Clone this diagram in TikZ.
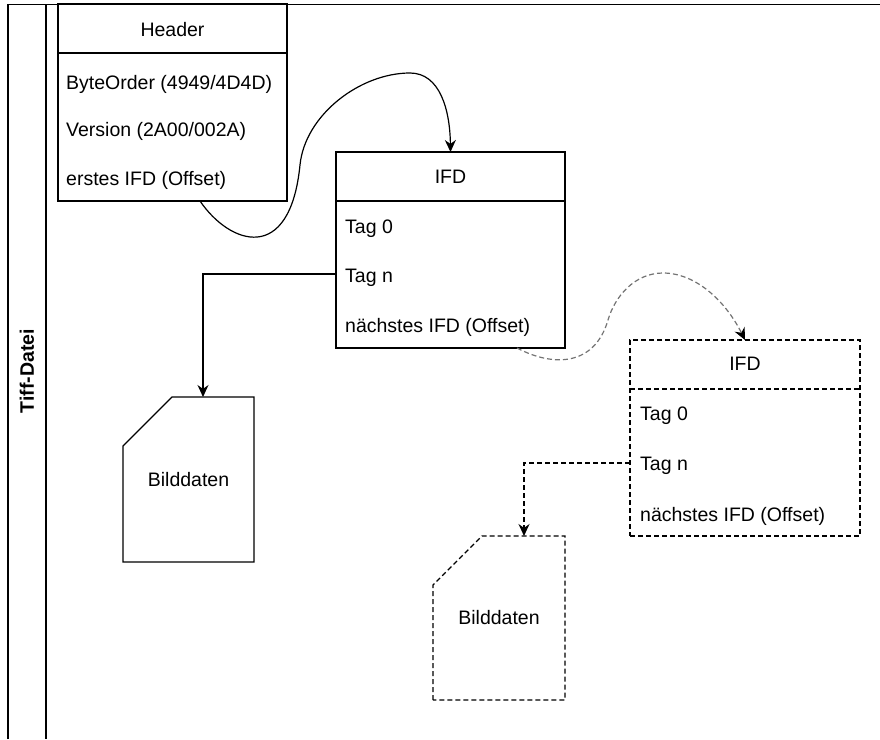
\documentclass[tikz,border=0pt]{standalone}
\usepackage{fontspec}
\setmainfont{Liberation Sans}
\usetikzlibrary{arrows.meta,calc}

\tikzset{
  every node/.style={font=\fontsize{19.5}{23}\selectfont},
  box/.style={shape=rectangle,draw=black,line width=1.2pt,inner sep=0pt,outer sep=0pt,minimum width=229pt,minimum height=196pt},
  dashbox/.style={box,dash pattern=on 5pt off 3pt},
  row/.style={anchor=west,inner sep=0pt,yshift=-2.5pt},
  card/.style={shape=rectangle,inner sep=0pt,outer sep=0pt},
  frame/.style={draw=black,line width=1.3pt},
  conn/.style={draw=black,line width=1.2pt,-{Stealth[length=12pt,width=11pt]}},
  dashconn/.style={conn,dash pattern=on 5pt off 3pt},
}

\begin{document}
\begin{tikzpicture}[x=1pt,y=-1pt]
\useasboundingbox (0,0) rectangle (880,739);

% pool
\draw[frame] (8,739) -- (8,4.5) -- (880,4.5);
\draw[frame] (46,4.5) -- (46,739);
\node[rotate=90,font=\fontsize{19.5}{23}\selectfont\bfseries] (pool) at (27,371) {Tiff-Datei};

% header
\node[box,minimum height=197pt] (header) at (172.5,102.5) {};
\draw[line width=1.2pt] (header.west |- 0,53) -- (header.east |- 0,53);
\node (headertitle) at (172.5,30) {Header};
\node[row] (byteorder) at (66,82) {ByteOrder (4949/4D4D)};
\node[row] (version) at (66,129) {Version (2A00/002A)};
\node[row] (firstifd) at (66,178) {erstes IFD (Offset)};

% first IFD
\node[box] (ifd1) at (450.5,250) {};
\draw[line width=1.2pt] (ifd1.west |- 0,201) -- (ifd1.east |- 0,201);
\node (ifd1title) at (450.5,177) {IFD};
\node[row] (tag01) at (345,226) {Tag 0};
\node[row] (tagn1) at (345,275) {Tag n};
\node[row] (next1) at (345,325) {nächstes IFD (Offset)};

% second IFD
\node[dashbox,minimum width=230pt] (ifd2) at (745,438) {};
\draw[line width=1.2pt,dash pattern=on 5pt off 3pt] (ifd2.west |- 0,389) -- (ifd2.east |- 0,389);
\node (ifd2title) at (745,364) {IFD};
\node[row] (tag02) at (640,413) {Tag 0};
\node[row] (tagn2) at (640,463) {Tag n};
\node[row] (next2) at (640,514) {nächstes IFD (Offset)};

% image data
\node[card,minimum width=131pt,minimum height=165pt] (bild1) at (188.5,479.5) {Bilddaten};
\draw[line width=1.2pt] (bild1.south west) -- ($(bild1.north west)+(0,49)$) -- ($(bild1.north west)+(49,0)$) -- (bild1.north east) -- (bild1.south east) -- cycle;
\node[card,minimum width=132pt,minimum height=164pt] (bild2) at (499,618) {Bilddaten};
\draw[line width=1.2pt,dash pattern=on 5pt off 3pt] (bild2.south west) -- ($(bild2.north west)+(0,49)$) -- ($(bild2.north west)+(49,0)$) -- (bild2.north east) -- (bild2.south east) -- cycle;

% links
\draw[conn] ([xshift=27.5pt]header.south) .. controls (230,245) and (290,265) .. (300,165)
  .. controls (305,115) and (360,73) .. (410,73)
  .. controls (440,73) and (450,110) .. (ifd1.north);
\draw[conn] (ifd1.west |- 0,274) -| ([xshift=14.5pt]bild1.north);
\draw[dashconn,draw=gray!90!black,-{Stealth[length=12pt,width=11pt,black]}] ([xshift=66.5pt]ifd1.south) .. controls (555,368) and (595,365) .. (608,320)
  .. controls (615,296) and (635,273) .. (663,273)
  .. controls (695,273) and (725,300) .. (ifd2.north);
\draw[dashconn] (ifd2.west |- 0,463) -| ([xshift=25pt]bild2.north);
\end{tikzpicture}
\end{document}
